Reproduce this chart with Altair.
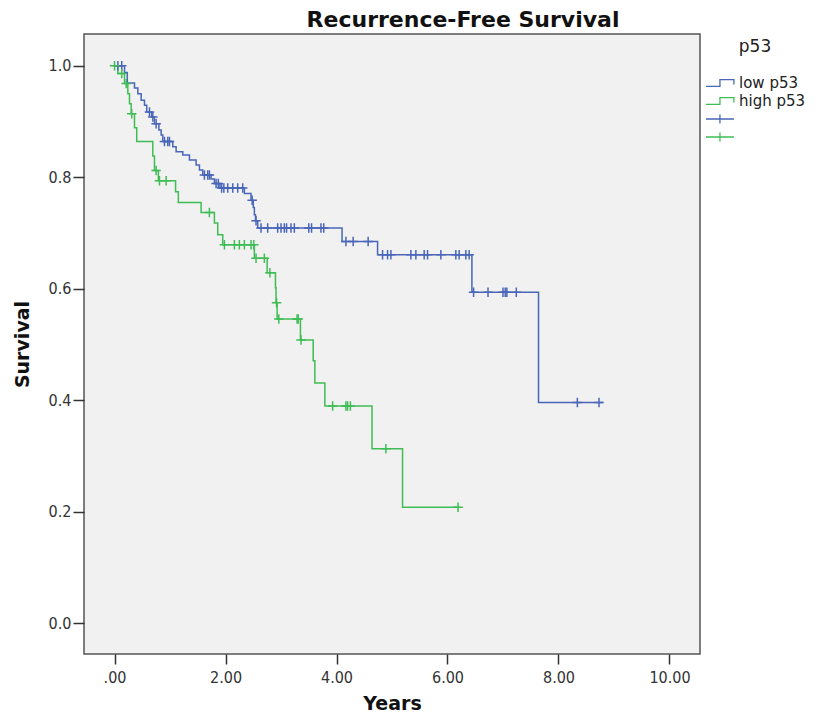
import altair as alt
import pandas as pd

# ---- data (years, survival) ----
low_step_t = [0.0, 0.18, 0.23, 0.36, 0.42, 0.48, 0.54, 0.58, 0.67, 0.72, 0.80, 0.84, 0.87,
              1.05, 1.11, 1.23, 1.35, 1.47, 1.53, 1.59, 1.74, 1.80, 1.90, 2.34, 2.46,
              2.50, 2.52, 2.54, 2.58, 4.10, 4.74, 6.44, 7.64]
low_step_s = [1.000, 0.988, 0.969, 0.960, 0.950, 0.938, 0.929, 0.917, 0.908, 0.896, 0.885,
              0.876, 0.864, 0.855, 0.846, 0.840, 0.831, 0.822, 0.813, 0.804, 0.797, 0.789,
              0.781, 0.771, 0.759, 0.746, 0.733, 0.722, 0.709, 0.685, 0.661, 0.594, 0.396]
low_end = 8.80
low_cens_t = [0.06, 0.13, 0.63, 0.69, 0.75, 0.90, 0.96, 0.99, 1.62, 1.68, 1.71, 1.83, 1.87,
              1.93, 1.97, 2.04, 2.13, 2.22, 2.31, 2.48, 2.55, 2.64, 2.76, 2.94, 3.00, 3.06,
              3.10, 3.18, 3.24, 3.50, 3.55, 3.72, 3.77, 4.17, 4.30, 4.57, 4.83, 4.92, 4.98,
              5.34, 5.43, 5.58, 5.64, 5.88, 6.15, 6.21, 6.33, 6.39, 6.47, 6.73, 7.00, 7.04,
              7.07, 7.24, 8.34, 8.73]

high_step_t = [0.0, 0.06, 0.18, 0.24, 0.27, 0.30, 0.36, 0.40, 0.69, 0.72, 0.79, 1.10, 1.15,
               1.56, 1.80, 1.86, 1.95, 2.52, 2.75, 2.90, 2.91, 2.93, 3.35, 3.58, 3.61, 3.79,
               4.64, 5.19]
high_step_s = [1.000, 0.986, 0.968, 0.950, 0.932, 0.914, 0.889, 0.864, 0.838, 0.812, 0.794,
               0.774, 0.755, 0.737, 0.718, 0.697, 0.679, 0.655, 0.629, 0.602, 0.575, 0.546,
               0.508, 0.471, 0.431, 0.390, 0.313, 0.208]
high_end = 6.22
high_cens_t = [0.0, 0.13, 0.21, 0.31, 0.75, 0.81, 0.93, 1.71, 1.98, 2.16, 2.25, 2.34, 2.46,
               2.51, 2.55, 2.70, 2.80, 2.92, 2.96, 3.29, 3.31, 3.36, 3.93, 4.17, 4.20, 4.25,
               4.89, 6.19]

groups = ["low p53", "high p53"]
cens_keys = ["low p53 +", "high p53 +"]
colors = ["#4a66b8", "#3fbd55"]

x_ticks = [0, 2, 4, 6, 8, 10]
y_ticks = [0.0, 0.2, 0.4, 0.6, 0.8, 1.0]


def surv_at(ts, ss, t):
    v = ss[0]
    for ti, si in zip(ts, ss):
        if ti <= t:
            v = si
    return v


line_rows = []
cens_rows = []
for g, ck, ts, ss, end, cts in [
    (groups[0], cens_keys[0], low_step_t, low_step_s, low_end, low_cens_t),
    (groups[1], cens_keys[1], high_step_t, high_step_s, high_end, high_cens_t),
]:
    for i, (t, s) in enumerate(zip(ts, ss)):
        line_rows.append({"t": t, "s": s, "key": g, "o": i})
    line_rows.append({"t": end, "s": ss[-1], "key": g, "o": len(ts)})
    for t in cts:
        cens_rows.append({"t": t, "s": surv_at(ts, ss, t), "key": ck})

lines_df = pd.DataFrame(line_rows)
cens_df = pd.DataFrame(cens_rows)

domain = [groups[0], groups[1], cens_keys[0], cens_keys[1]]
crange = [colors[0], colors[1], colors[0], colors[1]]

step_path = "M-1,0.37H0.55V-0.37H2.1V0.18"
plus_leg_path = "M-1,0H2.1M0.55,-0.5V0.5"
plus_path = "M-1,0H1M0,-1V1"
shape_range = [step_path, step_path, plus_leg_path, plus_leg_path]

color_scale = alt.Scale(domain=domain, range=crange)
shape_scale = alt.Scale(domain=domain, range=shape_range)


def make_legend():
    return alt.Legend(
        title="p53",
        orient="right",
        offset=0,
        symbolSize=324,
        labelOffset=14,
        rowPadding=0,
        titlePadding=17,
        titleAnchor="middle",
        symbolFillColor="transparent",
        symbolStrokeWidth=1.3,
        symbolOpacity=1,
        labelExpr="indexof(datum.value, '+') >= 0 ? '' : datum.label",
    )


x_enc = alt.X(
    "t:Q",
    scale=alt.Scale(domain=[-0.55, 10.55], nice=False, zero=False),
    axis=alt.Axis(
        title="Years",
        values=x_ticks,
        labelExpr="datum.value == 0 ? '.00' : format(datum.value, '.2f')",
    ),
)
y_enc = alt.Y(
    "s:Q",
    scale=alt.Scale(domain=[-0.055, 1.057], nice=False, zero=False),
    axis=alt.Axis(title="Survival", values=y_ticks, format=".1f"),
)

lines = alt.Chart(lines_df).mark_line(interpolate="step-after", strokeWidth=1.5).encode(
    x=x_enc,
    y=y_enc,
    color=alt.Color("key:N", scale=color_scale, legend=make_legend()),
    order="o:Q",
)

cens = alt.Chart(cens_df).mark_point(
    shape=plus_path, filled=False, size=90, strokeWidth=1.5, opacity=1
).encode(
    x="t:Q",
    y="s:Q",
    color=alt.Color("key:N", scale=color_scale, legend=make_legend()),
)

# legend-only layer (draws nothing): carries the per-entry legend symbols
legend_layer = alt.Chart(cens_df).transform_filter("false").mark_point(
    filled=False, strokeWidth=1.3
).encode(
    x="t:Q",
    y="s:Q",
    color=alt.Color("key:N", scale=color_scale, legend=make_legend()),
    shape=alt.Shape("key:N", scale=shape_scale, legend=make_legend()),
)

chart = (
    alt.layer(lines, cens, legend_layer)
    .properties(
        width=616,
        height=620,
        padding={"left": 5, "top": 1, "right": 0, "bottom": 0},
        title=alt.TitleParams(
            "Recurrence-Free Survival",
            anchor="middle",
            dx=71,
            offset=2,
            font="DejaVu Sans",
            fontSize=22,
            fontWeight="bold",
            color="#111",
        ),
    )
    .configure_view(fill="#f1f1f1", stroke="#555", strokeWidth=1.5)
    .configure_axis(
        grid=False,
        domain=False,
        tickColor="#333",
        tickWidth=1.5,
        labelFont="DejaVu Sans Condensed, Liberation Sans Narrow, DejaVu Sans",
        labelFontSize=16,
        labelColor="#333",
        titleFont="DejaVu Sans",
        titleFontSize=19,
        titleFontWeight="bold",
        titleColor="#111",
    )
    .configure_axisX(tickSize=10, labelPadding=5, titlePadding=9)
    .configure_axisY(tickSize=11, labelPadding=2, titlePadding=16)
    .configure_legend(
        labelFont="DejaVu Sans",
        labelFontSize=15,
        labelColor="#222",
        titleFont="DejaVu Sans",
        titleFontSize=17,
        titleFontWeight="normal",
        titleColor="#222",
        padding=5,
    )
)

chart.save("out.html", embed_options={"renderer": "svg", "actions": False})
